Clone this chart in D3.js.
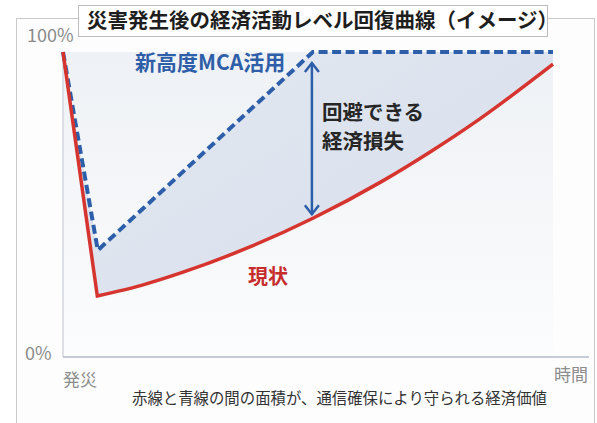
<!DOCTYPE html>
<head>
  <meta charset="utf-8">
  <script src="https://d3js.org/d3.v7.min.js"></script>
  <style>
    body { margin:0; background:#fff; }
    text { font-family:"Noto Sans CJK JP", "Noto Sans", sans-serif; }
  </style>
</head>
<body>
<script>
  // time (0 = 発災, 100 = end of curves) and activity level in %
  var redT  = [0, 7, 16, 24.5, 38, 51, 65, 75, 85, 100]
  var redV  = [100, 20, 23.5, 27.8, 36, 45.5, 57.5, 67.3, 78, 96]
  var blueT = [0, 7.1, 51, 100]
  var blueV = [100, 35, 100, 100]
  var yLabels = ["0%", "100%"]
  var xLabels = ["発災", "時間"]
  var title = "災害発生後の経済活動レベル回復曲線（イメージ）"
  var gapLabel = ["回避できる", "経済損失"]
  var note = "赤線と青線の間の面積が、通信確保により守られる経済価値"

  var svg = d3.select("body").append("svg")
    .attr("width", 597)
    .attr("height", 423)

  var x = d3.scaleLinear().domain([0, 100]).range([63, 553])
  var y = d3.scaleLinear().domain([0, 100]).range([357, 52])

  var defs = svg.append("defs")
  var bg = defs.append("linearGradient").attr("id", "bg")
    .attr("x1", 0).attr("y1", 0).attr("x2", 0).attr("y2", 1)
  bg.append("stop").attr("offset", 0).attr("stop-color", "#eef1f5")
  bg.append("stop").attr("offset", 1).attr("stop-color", "#fbfcfd")
  var fillG = defs.append("linearGradient").attr("id", "gap")
    .attr("x1", 0).attr("y1", 0).attr("x2", 1).attr("y2", 1)
  fillG.append("stop").attr("offset", 0).attr("stop-color", "#e3e8f1")
  fillG.append("stop").attr("offset", 1).attr("stop-color", "#d6deeb")

  // outer panel
  svg.append("rect")
    .attr("x", 16.5).attr("y", 18.5).attr("width", 578).attr("height", 420)
    .attr("fill", "#fdfdfe").attr("stroke", "#c9c9c9")

  // plot background
  svg.append("rect")
    .attr("x", x(0)).attr("y", y(100))
    .attr("width", x(100) - x(0)).attr("height", y(0) - y(100))
    .attr("fill", "url(#bg)")

  var red = redT.map(function(d, i) { return [x(d), y(redV[i])] })
  var blue = blueT.map(function(d, i) { return [x(d), y(blueV[i])] })

  var straight = d3.line()
  var smooth = d3.line().curve(d3.curveMonotoneX)
  var redPath = straight(red.slice(0, 2)) + smooth(red.slice(1)).replace(/^M/, "L")
  var bluePath = straight(blue)

  // area between the two curves
  defs.append("clipPath").attr("id", "aboveRed")
    .append("path")
    .attr("d", redPath + "L" + x(100) + "," + y(110) + "L" + x(0) + "," + y(110) + "Z")
  svg.append("path")
    .attr("d", bluePath + "L" + x(100) + "," + y(0) + "L" + x(0) + "," + y(0) + "Z")
    .attr("fill", "url(#gap)")
    .attr("clip-path", "url(#aboveRed)")

  // axes
  svg.append("line")
    .attr("x1", x(0)).attr("x2", x(0)).attr("y1", y(100)).attr("y2", y(0))
    .attr("stroke", "#d3d6dc").attr("stroke-width", 1.5)
  svg.append("line")
    .attr("x1", x(0)).attr("x2", 589).attr("y1", y(0)).attr("y2", y(0))
    .attr("stroke", "#c6cbd5").attr("stroke-width", 2)

  svg.append("path")
    .attr("d", bluePath)
    .attr("fill", "none")
    .attr("stroke", "#2c5ea9")
    .attr("stroke-width", 4)
    .attr("stroke-dasharray", "9,4.5")

  svg.append("path")
    .attr("d", redPath)
    .attr("fill", "none")
    .attr("stroke", "#d6342e")
    .attr("stroke-width", 3.5)
    .attr("stroke-linejoin", "miter")

  // double arrow at the point where the blue line reaches 100%
  var ax = x(blueT[2]) - 1
  var aTop = y(100) + 11
  var aBot = y(redV[5]) - 4
  svg.append("line")
    .attr("x1", ax).attr("x2", ax).attr("y1", aTop).attr("y2", aBot)
    .attr("stroke", "#2c5ea9").attr("stroke-width", 2.5)
  svg.append("path")
    .attr("d", "M" + (ax - 7) + "," + (aTop + 9) + "L" + ax + "," + aTop + "L" + (ax + 7) + "," + (aTop + 9) +
      "M" + (ax - 7) + "," + (aBot - 9) + "L" + ax + "," + aBot + "L" + (ax + 7) + "," + (aBot - 9))
    .attr("fill", "none").attr("stroke", "#2c5ea9").attr("stroke-width", 2.5)

  // labels
  svg.append("text").attr("x", 135).attr("y", 70)
    .attr("font-size", 21).attr("font-weight", "bold").attr("fill", "#2e5ea8")
    .text("新高度MCA活用")
  svg.selectAll(".gap").data(gapLabel).enter().append("text")
    .attr("class", "gap")
    .attr("x", 322).attr("y", function(d, i) { return 120 + i * 29 })
    .attr("font-size", 20.5).attr("font-weight", "bold").attr("fill", "#262626")
    .text(function(d) { return d })
  svg.append("text").attr("x", 248).attr("y", 284)
    .attr("font-size", 20).attr("font-weight", "bold").attr("fill", "#c62d2b")
    .text("現状")

  svg.append("text").attr("x", 27).attr("y", 42)
    .attr("font-size", 18).attr("fill", "#8a8a8a").text(yLabels[1])
  svg.append("text").attr("x", 25).attr("y", 360)
    .attr("font-size", 18).attr("fill", "#8a8a8a").text(yLabels[0])
  svg.append("text").attr("x", x(0)).attr("y", 386)
    .attr("font-size", 17).attr("fill", "#8c8c8c").text(xLabels[0])
  svg.append("text").attr("x", 588).attr("y", 381).attr("text-anchor", "end")
    .attr("font-size", 17).attr("fill", "#8c8c8c").text(xLabels[1])

  svg.append("text").attr("x", 132).attr("y", 404)
    .attr("font-size", 15.4).attr("fill", "#333").text(note)

  // title box
  svg.append("rect")
    .attr("x", 78.5).attr("y", 5.5).attr("width", 469).attr("height", 31)
    .attr("fill", "#fff").attr("stroke", "#bdbdbd")
  svg.append("text").attr("x", 87).attr("y", 28)
    .attr("font-size", 20.5).attr("font-weight", "bold").attr("fill", "#1e1e1e")
    .text(title)
</script>
</body>
